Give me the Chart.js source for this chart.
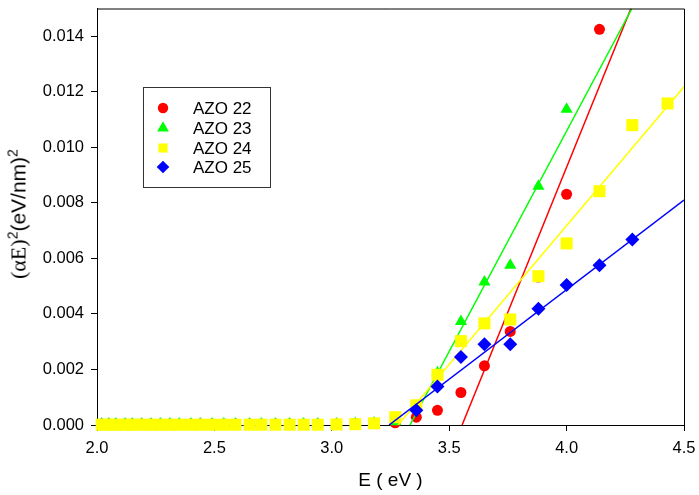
<!DOCTYPE html>
<html>
<head>
<meta charset="utf-8">
<script src="https://cdn.jsdelivr.net/npm/chart.js@4.4.1/dist/chart.umd.min.js"></script>
<style>
    body { margin: 0; background: #fff; }
    #wrap { position: relative; width: 699px; height: 495px; }
    #ytitle {
        position: absolute;
        left: 18px; top: 214px;
        transform: translate(-50%, -50%) rotate(-90deg);
        white-space: nowrap;
        font-family: 'Liberation Sans', Arial, sans-serif;
        font-size: 21px;
        color: #000;
    }
    #ytitle .serif { font-family: 'Liberation Serif', 'Times New Roman', serif; font-size: 22px; }
    #ytitle sup { font-size: 14px; }
</style>
</head>
<body>
<div id="wrap">
    <canvas id="chart" width="699" height="495"></canvas>
    <div id="ytitle"><span class="serif">(αE)</span><sup>2</sup>(eV/nm)<sup>2</sup></div>
</div>
<script>
// Photon energy (eV), shared by all samples
const energy = [2.02, 2.05, 2.08, 2.12, 2.15, 2.19, 2.23, 2.27, 2.31, 2.35, 2.40, 2.44,
    2.49, 2.54, 2.59, 2.65, 2.70, 2.76, 2.82, 2.88, 2.94, 3.02, 3.10, 3.18, 3.27,
    3.36, 3.45, 3.55, 3.65, 3.76, 3.88, 4.00, 4.14, 4.28, 4.43];

// (alpha E)^2 per sample, null = no point
const azo22 = [0.00004, 0.00004, 0.00004, 0.00004, 0.00004, 0.00004, 0.00004, 0.00004, 0.00004, 0.00004, 0.00004, 0.00004,
    0.00004, 0.00004, 0.00004, 0.00004, 0.00004, 0.00004, 0.00004, 0.00004, 0.00004, 0.00004, 0.00005, 0.00006, 0.00008,
    0.00028, 0.00053, 0.00117, 0.00213, 0.00337, 0.00533, 0.00831, 0.01425, null, null];
const azo23 = [0.00004, 0.00004, 0.00004, 0.00004, 0.00004, 0.00004, 0.00004, 0.00004, 0.00004, 0.00004, 0.00004, 0.00004,
    0.00004, 0.00004, 0.00004, 0.00004, 0.00004, 0.00004, 0.00004, 0.00004, 0.00004, 0.00004, 0.00005, 0.00007, 0.00012,
    0.0006, 0.00188, 0.00373, 0.00515, 0.00575, 0.0086, 0.01137, null, null, null];
const azo24 = [0.00001, 0.00001, 0.00001, 0.00001, 0.00001, 0.00001, 0.00001, 0.00001, 0.00001, 0.00001, 0.00001, 0.00001,
    0.00001, 0.00001, 0.00001, 0.00001, 0.00001, 0.00001, 0.00001, 0.00001, 0.00001, 0.00002, 0.00003, 0.00006, 0.00028,
    0.00071, 0.00181, 0.00302, 0.00366, 0.0038, 0.00536, 0.00654, 0.00842, 0.0108, 0.01158];
const azo25 = [null, null, null, null, null, null, null, null, null, null, null, null,
    null, null, null, null, null, null, null, null, null, null, null, null, null,
    0.00053, 0.00139, 0.00245, 0.00291, 0.00291, 0.00419, 0.00504, 0.00575, 0.00668, null];

// Linear fits: start and end points [x0, x1], [y0, y1]
const fitX22 = [3.555, 4.274], fitY22 = [0, 0.015];
const fitX23 = [3.333, 4.278], fitY23 = [0, 0.015];
const fitX24 = [3.282, 4.5],   fitY24 = [0, 0.01218];
const fitX25 = [3.244, 4.5],   fitY25 = [0, 0.0081];

const labels = ['AZO 22', 'AZO 23', 'AZO 24', 'AZO 25'];
const COLORS = ['#ff0000', '#00ff00', '#ffff00', '#0000ff'];
const SHAPES = ['circle', 'triangle', 'rect', 'rectRot'];
const RADII = [5.5, 7, 8.5, 7];
const LEGEND_RADII = [5.2, 6.8, 6.5, 6.3];

const xTicks = [2.0, 2.5, 3.0, 3.5, 4.0, 4.5];
const FONT = '"Liberation Sans", Arial, sans-serif';

function toPoints(xs, ys) {
    const pts = [];
    xs.forEach((x, i) => { if (ys[i] !== null) pts.push({ x: x, y: ys[i] }); });
    return pts;
}

const series = [azo22, azo23, azo24, azo25];
const fitsX = [fitX22, fitX23, fitX24, fitX25];
const fitsY = [fitY22, fitY23, fitY24, fitY25];

const datasets = [];
series.forEach((ys, i) => {
    datasets.push({
        label: labels[i],
        data: toPoints(energy, ys),
        pointStyle: SHAPES[i],
        pointRadius: RADII[i],
        pointHoverRadius: RADII[i],
        backgroundColor: COLORS[i],
        borderColor: COLORS[i],
        borderWidth: 0,
        showLine: false,
        clip: false,
        order: 8 - i * 2
    });
    datasets.push({
        label: labels[i] + ' fit',
        data: toPoints(fitsX[i], fitsY[i]),
        showLine: true,
        pointRadius: 0,
        borderColor: COLORS[i],
        borderWidth: 1.5,
        fill: false,
        order: 7 - i * 2
    });
});

// box around plot + legend inside the plot
const framePlugin = {
    id: 'frame',
    afterDatasetsDraw(chart) {
        const { ctx, chartArea: a } = chart;
        ctx.save();
        ctx.strokeStyle = '#000';
        ctx.lineWidth = 1;
        ctx.beginPath();
        ctx.moveTo(a.left, a.top + 0.5);
        ctx.lineTo(a.right + 0.5, a.top + 0.5);
        ctx.lineTo(a.right + 0.5, a.bottom);
        ctx.stroke();

        // legend
        ctx.strokeStyle = '#333';
        ctx.strokeRect(143.5, 87.5, 127, 100);
        ctx.font = '17px ' + FONT;
        ctx.textBaseline = 'middle';
        const rows = [108, 128, 148, 167];
        labels.forEach((lab, i) => {
            ctx.fillStyle = COLORS[i];
            ctx.strokeStyle = COLORS[i];
            Chart.helpers.drawPoint(ctx, { pointStyle: SHAPES[i], radius: LEGEND_RADII[i], borderWidth: 0 }, 163, rows[i]);
            ctx.fillStyle = '#000';
            ctx.fillText(lab, 193, rows[i] + 1);
        });
        ctx.restore();
    }
};

const ctx = document.getElementById('chart');
new Chart(ctx, {
    type: 'scatter',
    data: { datasets },
    options: {
        responsive: false,
        animation: false,
        layout: { padding: { top: 3, right: 15, left: 0, bottom: 0 } },
        plugins: {
            legend: { display: false },
            tooltip: { enabled: false }
        },
        scales: {
            x: {
                type: 'linear',
                min: 2.0,
                max: 4.5,
                afterFit: s => { s.height = 70; s.paddingRight = 0; s.paddingLeft = 0; },
                afterBuildTicks: s => { s.ticks = xTicks.map(v => ({ value: v })); },
                grid: { drawOnChartArea: false, drawTicks: true, tickLength: 6, color: '#000' },
                border: { display: true, color: '#000', width: 1 },
                ticks: {
                    color: '#000',
                    padding: 8,
                    maxRotation: 0,
                    font: { family: FONT, size: 16.5 },
                    callback: v => v.toFixed(1)
                },
                title: {
                    display: true,
                    text: 'E ( eV )',
                    color: '#000',
                    font: { family: FONT, size: 19 },
                    padding: { top: 0, bottom: 3 }
                }
            },
            y: {
                type: 'linear',
                min: 0,
                max: 0.015,
                afterFit: s => { s.width = 97; s.paddingTop = 0; s.paddingBottom = 0; },
                grid: { drawOnChartArea: false, drawTicks: true, tickLength: 6, color: '#000' },
                border: { display: true, color: '#000', width: 1 },
                ticks: {
                    stepSize: 0.002,
                    includeBounds: false,
                    color: '#000',
                    padding: 7,
                    font: { family: FONT, size: 16.5, lineHeight: 0.3 },
                    callback: v => v.toFixed(3)
                }
            }
        }
    },
    plugins: [framePlugin]
});
</script>
</body>
</html>
